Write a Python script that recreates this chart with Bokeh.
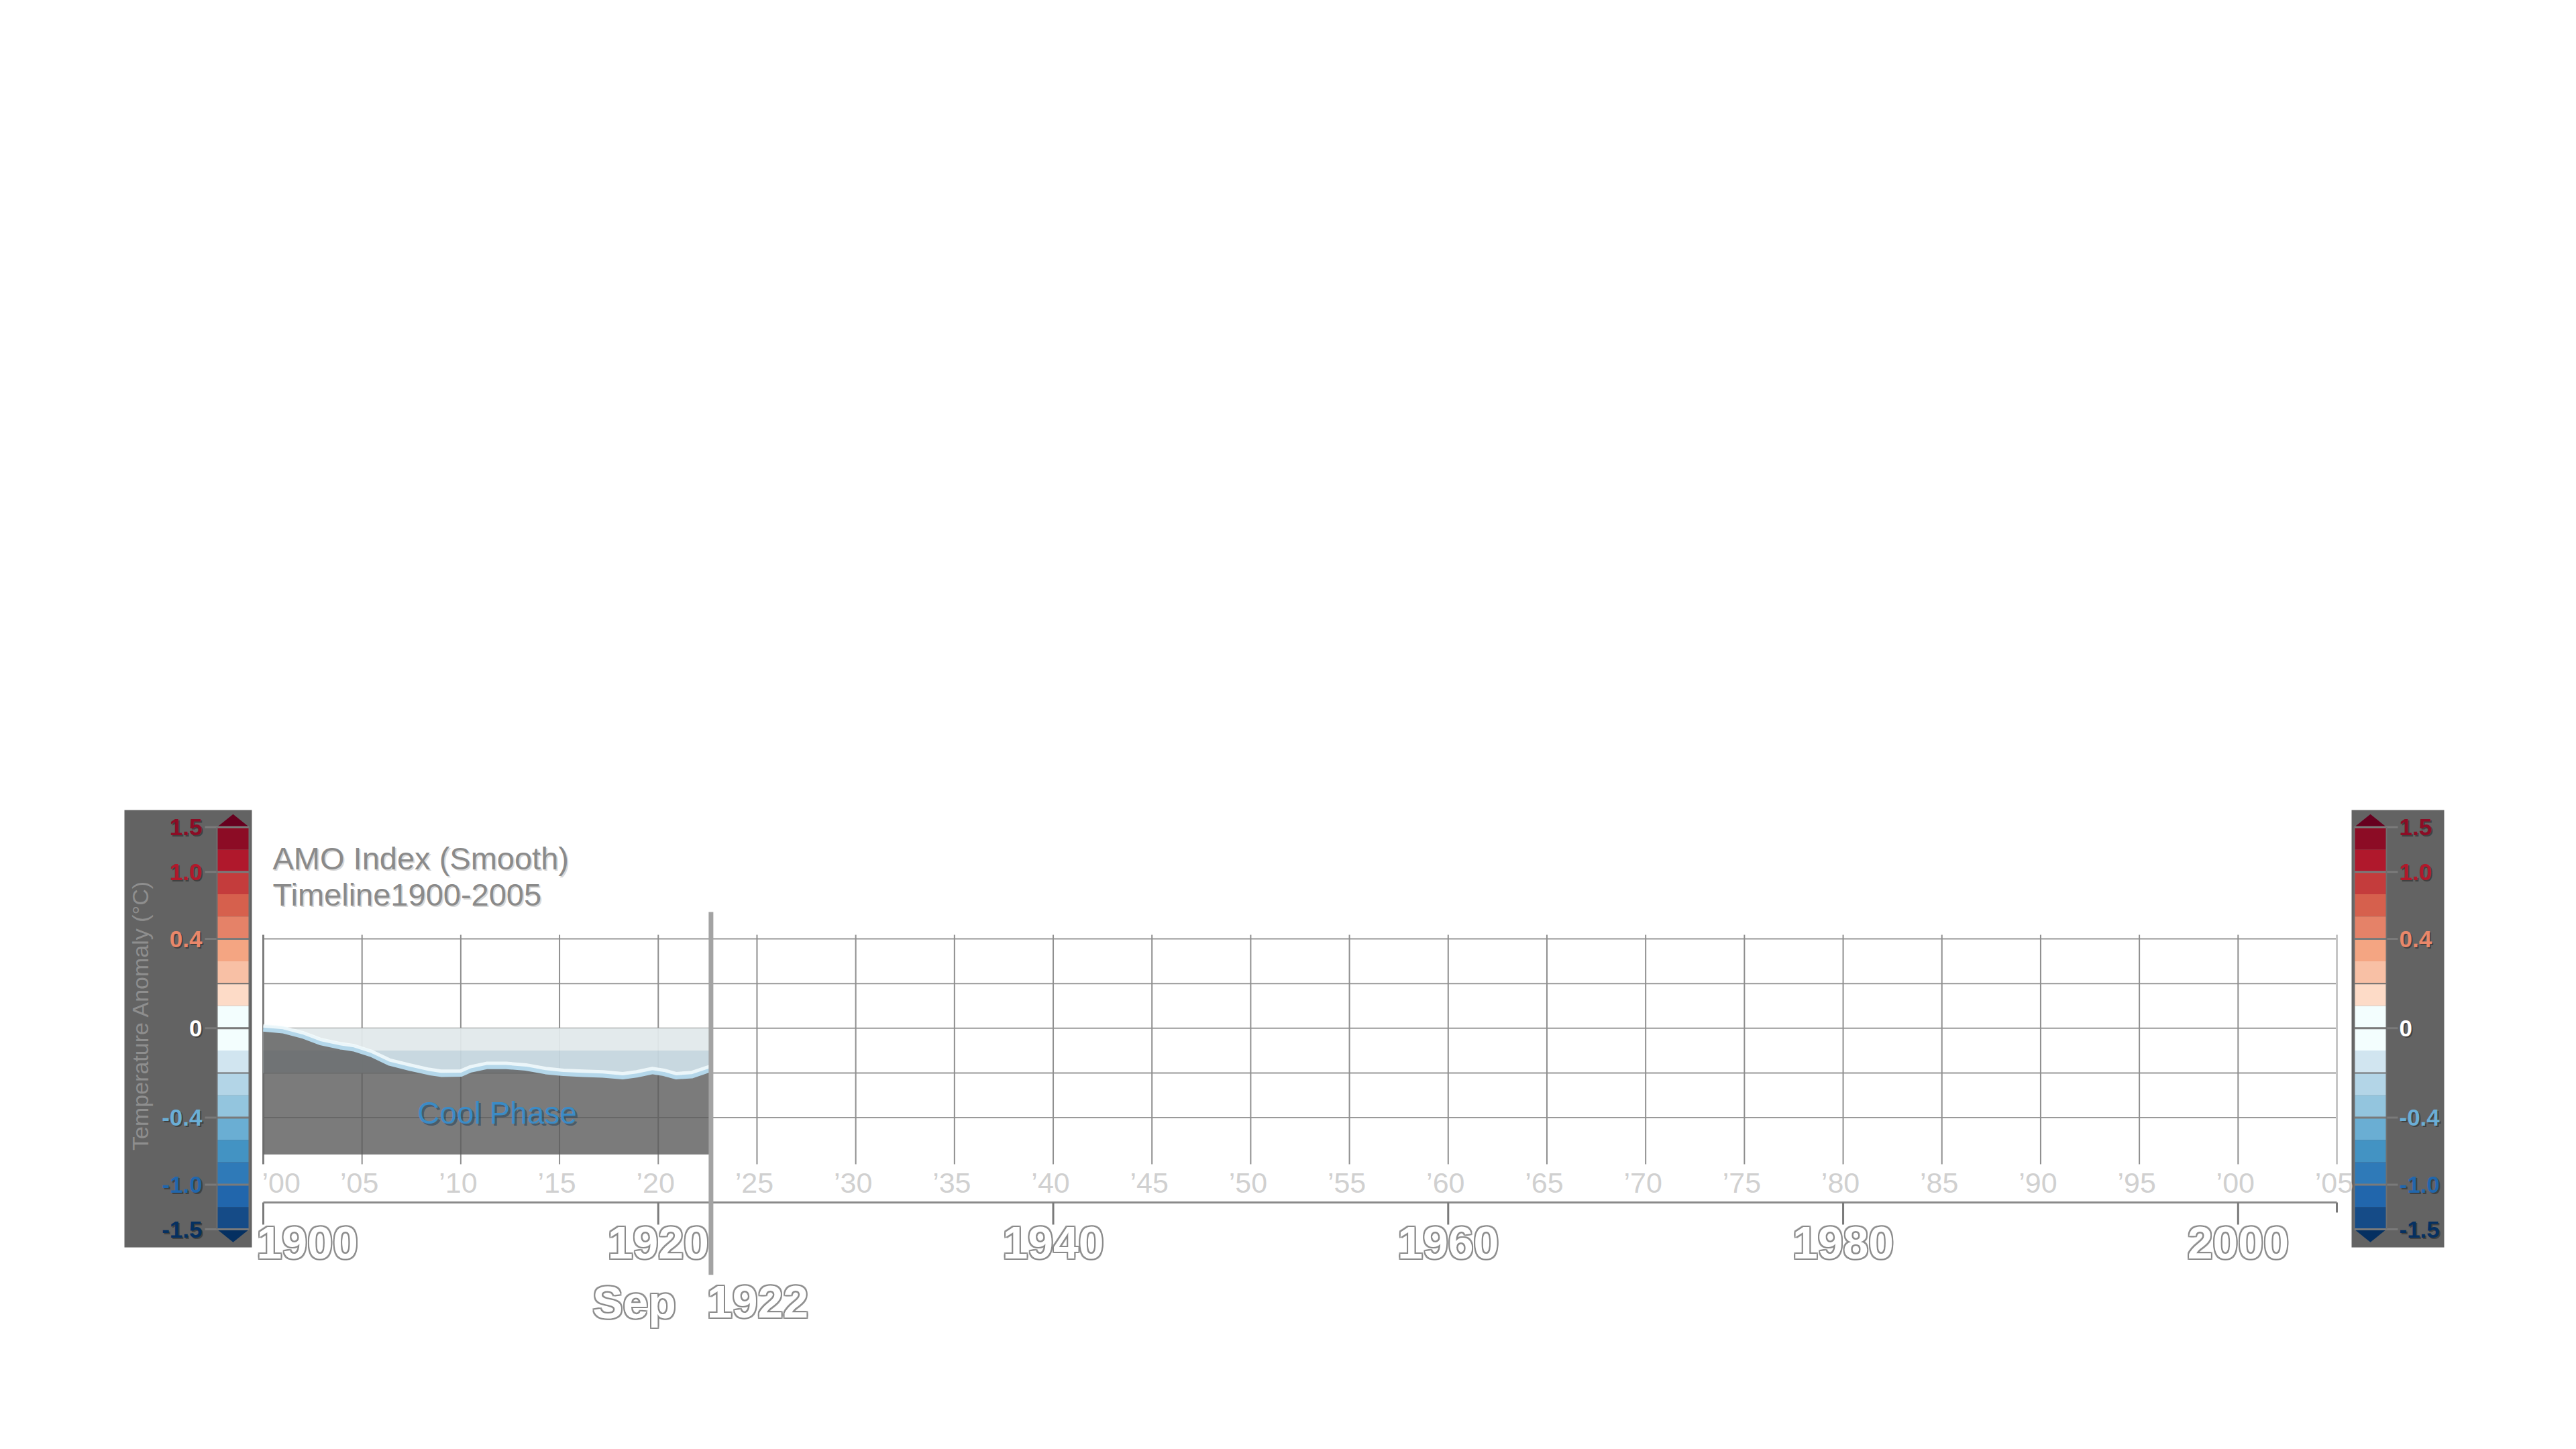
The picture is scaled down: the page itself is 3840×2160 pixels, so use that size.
import numpy as np
from bokeh.plotting import figure
from bokeh.models import Range1d
from bokeh.core.properties import value
from bokeh.embed import file_html
from bokeh.resources import INLINE

# ---------------- data ----------------
amo_year = [1900.0, 1901.0, 1902.0, 1902.9, 1903.9, 1904.6, 1905.5, 1906.4, 1907.4,
            1908.4, 1909.0, 1910.0, 1910.5, 1911.3, 1912.3, 1913.3, 1914.3, 1915.2,
            1916.2, 1917.2, 1918.2, 1918.9, 1919.7, 1920.3, 1920.9, 1921.7, 1922.67]
amo_value = [0.0, -0.008, -0.031, -0.061, -0.080, -0.089, -0.115, -0.153, -0.175,
             -0.195, -0.203, -0.202, -0.183, -0.168, -0.168, -0.175, -0.191, -0.199,
             -0.203, -0.206, -0.214, -0.206, -0.191, -0.199, -0.214, -0.209, -0.180]
area_floor = -0.565

cursor_year = 1922.67
cursor_month_label = "Sep"
cursor_year_label = "1922"

title_lines = ["AMO Index (Smooth)", "Timeline1900-2005"]
phase_label = "Cool Phase"

grid_values = [0.4, 0.2, 0.0, -0.2, -0.4]
minor_years = [1900, 1905, 1910, 1915, 1920, 1925, 1930, 1935, 1940, 1945, 1950,
               1955, 1960, 1965, 1970, 1975, 1980, 1985, 1990, 1995, 2000, 2005]
minor_labels = ["\u201900", "\u201905", "\u201910", "\u201915", "\u201920", "\u201925",
                "\u201930", "\u201935", "\u201940", "\u201945", "\u201950", "\u201955",
                "\u201960", "\u201965", "\u201970", "\u201975", "\u201980", "\u201985",
                "\u201990", "\u201995", "\u201900", "\u201905"]
major_years = [1900, 1920, 1940, 1960, 1980, 2000]
major_labels = ["1900", "1920", "1940", "1960", "1980", "2000"]
axis_start, axis_end = 1900, 2005

band_top = [0.0, -0.1]
band_bottom = [-0.1, -0.2]
band_colors = ["#e1e9eb", "#c5d6de"]

# colour bar (chart units: one step = 0.1)
cbar_colors = ["#8c0c25", "#b0182c", "#c43c3c", "#d6604d", "#e58268", "#f4a582",
               "#f8c0a5", "#fddbc7", "#f3fefe", "#f3fefe", "#d1e5f0", "#b3d5e7",
               "#93c5de", "#6aaed3", "#4393c3", "#2f7ab8", "#2166ac", "#154b87"]
cbar_top_color = "#67001f"
cbar_bottom_color = "#053061"
cbar_tick_pos = [0.9, 0.7, 0.4, 0.0, -0.4, -0.7, -0.9]
cbar_tick_labels = ["1.5", "1.0", "0.4", "0", "-0.4", "-1.0", "-1.5"]
cbar_label_colors = ["#8c0c25", "#b2182b", "#e9876a", "#ffffff", "#6aaed6", "#2166ac", "#053061"]
cbar_separators = [0.9, 0.7, 0.4, 0.2, 0.0, -0.2, -0.4, -0.7, -0.9]
cbar_title = "Temperature Anomaly (\u00b0C)"

# ---------------- layout helpers ----------------
W, H = 3824, 2140
ORIGIN = 0
PX_1900, PX_2005 = 392.0, 3483.0
PXY = (PX_2005 - PX_1900) / 105.0
PY_ZERO, PXU = 1532.3, 333.0


def xd(px):
    return 1900 + (px - PX_1900) / PXY


def yd(py):
    return (PY_ZERO - py) / PXU


FONT = value("Liberation Sans")

p = figure(width=W, height=H, output_backend="svg", toolbar_location=None,
           x_range=Range1d(xd(ORIGIN), xd(ORIGIN + W)),
           y_range=Range1d(yd(ORIGIN + H), yd(ORIGIN)),
           x_axis_type=None, y_axis_type=None, title=None, min_border=0)
p.grid.visible = False
p.outline_line_color = None
p.background_fill_color = "white"
p.border_fill_color = "white"


def txt(x, y, t, size, color, align="center", baseline="middle", style="normal",
        xo=0, yo=0, alpha=1.0, angle=0.0):
    if not isinstance(x, (list, tuple)):
        x, y, t = [x], [y], [t]
    p.text(x=x, y=y, text=t, text_font=FONT, text_font_size=value(size),
           text_color=color, text_align=align, text_baseline=baseline,
           text_font_style=style, x_offset=xo, y_offset=yo, text_alpha=alpha, angle=angle)


def outlined(x, y, t, size, align="center", style="bold", xo=0):
    for dx, dy in [(-2, 0), (2, 0), (0, -2), (0, 2), (-2, -2), (2, -2), (-2, 2), (2, 2)]:
        txt(x, y, t, size, "#8a8a8a", align=align, style=style, xo=xo + dx, yo=dy, alpha=0.85)
    txt(x, y, t, size, "#ffffff", align=align, style=style, xo=xo)


# ---------------- colour bars ----------------
def colorbar(panel_l, panel_r, strip_l, strip_r, label_x, label_align, tick_l, tick_r):
    p.quad(left=xd(panel_l), right=xd(panel_r), top=yd(1207), bottom=yd(1859),
           fill_color="#636363", line_color=None)
    n = len(cbar_colors)
    tops = [0.9 - 0.1 * k for k in range(n)]
    bots = [0.9 - 0.1 * (k + 1) for k in range(n)]
    p.quad(left=xd(strip_l), right=xd(strip_r), top=tops, bottom=bots,
           fill_color=cbar_colors, line_color=None)
    cx = (xd(strip_l) + xd(strip_r)) / 2
    p.patch(x=[xd(strip_l), cx, xd(strip_r)], y=[0.9, 0.958, 0.9],
            fill_color=cbar_top_color, line_color=None)
    p.patch(x=[xd(strip_l), cx, xd(strip_r)], y=[-0.9, -0.958, -0.9],
            fill_color=cbar_bottom_color, line_color=None)
    p.segment(x0=xd(strip_l), x1=xd(strip_r), y0=cbar_separators, y1=cbar_separators,
              line_color="#6f6f6f", line_width=2)
    p.segment(x0=xd(tick_l), x1=xd(tick_r), y0=cbar_tick_pos, y1=cbar_tick_pos,
              line_color="#7a7a7a", line_width=3)
    p.segment(x0=[xd(strip_l), xd(strip_r)], x1=[xd(strip_l), xd(strip_r)],
              y0=[0.9, 0.9], y1=[-0.9, -0.9], line_color="#6f6f6f", line_width=2)
    xs = [xd(label_x)] * len(cbar_tick_pos)
    txt(xs, cbar_tick_pos, cbar_tick_labels, "35px", "#2a2a2a", align=label_align,
        style="bold", xo=2, yo=2, alpha=0.6)
    p.text(x=xs, y=cbar_tick_pos, text=cbar_tick_labels, text_font=FONT,
           text_font_size=value("35px"), text_color=cbar_label_colors,
           text_align=label_align, text_baseline="middle", text_font_style="bold")


colorbar(185, 375, 323, 371, 301, "right", 305, 371)
colorbar(3505, 3643, 3509, 3557, 3576, "left", 3509, 3574)
txt(xd(208), yd(1513), cbar_title, "34px", "#8e8e8e", angle=np.pi / 2)

# ---------------- grid ----------------
p.segment(x0=axis_start, x1=axis_end, y0=grid_values, y1=grid_values,
          line_color="#9a9a9a", line_width=2)
inner = minor_years[1:-1]
p.segment(x0=inner, x1=inner, y0=yd(1393), y1=yd(1735), line_color="#8f8f8f", line_width=2)
p.segment(x0=[axis_start], x1=[axis_start], y0=yd(1393), y1=yd(1735),
          line_color="#7d7d7d", line_width=3)
p.segment(x0=[axis_end], x1=[axis_end], y0=yd(1393), y1=yd(1735),
          line_color="#c6c6c6", line_width=3)

# ---------------- background bands ----------------
p.quad(left=axis_start, right=cursor_year, top=band_top, bottom=band_bottom,
       fill_color=band_colors, fill_alpha=0.94, line_color=None)

# ---------------- data ----------------
p.varea(x=amo_year, y1=amo_value, y2=area_floor, fill_color="#5a5a5a", fill_alpha=0.8)
p.line(x=amo_year, y=amo_value, line_color="#b4d7ea", line_width=10, line_join="round")
p.line(x=amo_year, y=[v + 0.011 for v in amo_value], line_color="#f4fbfd",
       line_width=5, line_alpha=0.85, line_join="round")

cx_phase = (amo_year[0] + amo_year[-1]) / 2 + 0.5
txt(cx_phase, -0.378, phase_label, "46px", "#1f3f5a", xo=3, yo=3, alpha=0.55)
txt(cx_phase, -0.378, phase_label, "46px", "#3b8bc6")

# ---------------- axis ----------------
y_axis = yd(1792)
p.segment(x0=[axis_start], x1=[axis_end], y0=[y_axis], y1=[y_axis],
          line_color="#8a8a8a", line_width=3)
p.segment(x0=major_years, x1=major_years, y0=y_axis, y1=yd(1825),
          line_color="#7a7a7a", line_width=3)
p.segment(x0=[axis_end], x1=[axis_end], y0=[y_axis], y1=[yd(1807)],
          line_color="#7a7a7a", line_width=3)

txt(minor_years[:1], [yd(1762)], minor_labels[:1], "43px", "#d0d0d0", align="left", xo=-2)
txt(minor_years[1:], [yd(1762)] * (len(minor_years) - 1), minor_labels[1:], "43px",
    "#d0d0d0", align="center", xo=-4)

outlined(major_years[:1], [yd(1852)], major_labels[:1], "68px", align="left", xo=-10)
p_x = major_years[1:]
outlined(p_x, [yd(1852)] * len(p_x), major_labels[1:], "68px", align="center")

# ---------------- titles ----------------
tx = xd(406)
txt([tx, tx], [yd(1279), yd(1333)], title_lines, "47px", "#d8d8d8", align="left", xo=2, yo=2)
txt([tx, tx], [yd(1279), yd(1333)], title_lines, "47px", "#8a8a8a", align="left")

# ---------------- cursor ----------------
p.segment(x0=[cursor_year], x1=[cursor_year], y0=[yd(1359)], y1=[yd(1900)],
          line_color="#a3a3a3", line_width=7)
outlined([cursor_year], [yd(1940)], [cursor_month_label], "68px", align="right", xo=-52)
outlined([cursor_year], [yd(1940)], [cursor_year_label], "68px", align="left", xo=-6)

html = file_html(p, INLINE)
open("out.html", "w").write(html)
